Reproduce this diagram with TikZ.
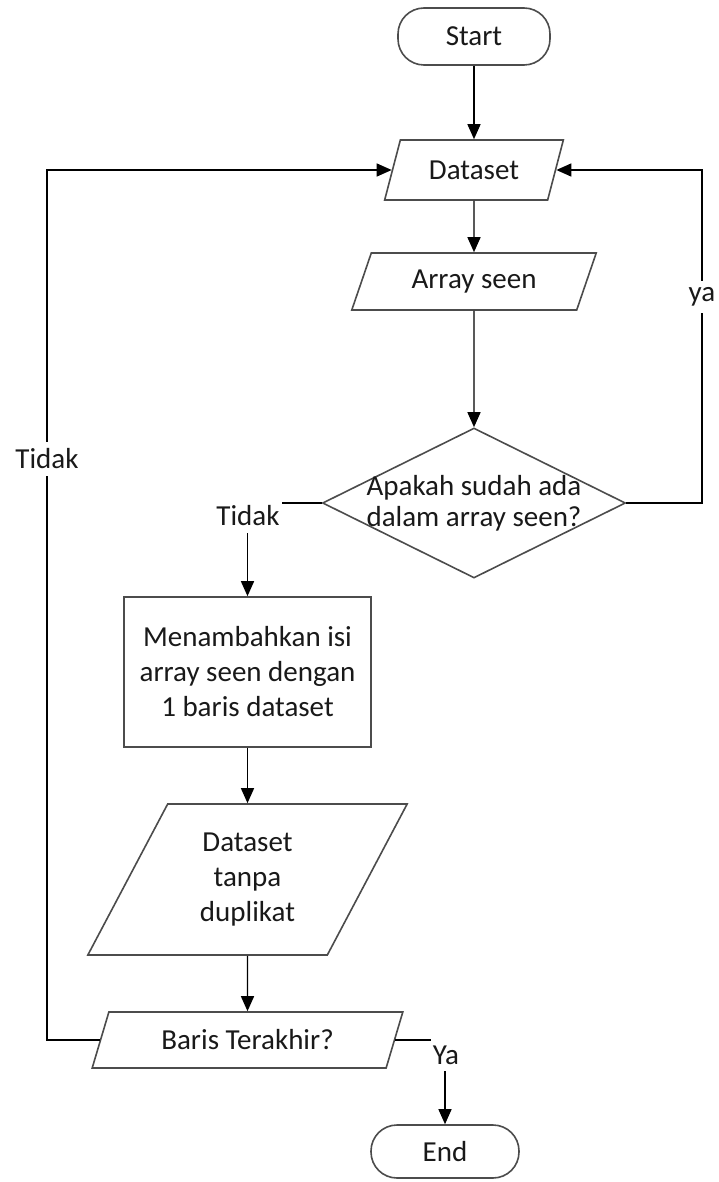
\documentclass[tikz,border=0pt]{standalone}
\usepackage{fontspec}
\setmainfont{Carlito}
\usetikzlibrary{shapes.geometric,arrows.meta}
\begin{document}
\begin{tikzpicture}[x=1pt,y=-1pt,
  every node/.style={font=\fontsize{29}{35}\selectfont, text=black!90},
  shp/.style={draw=black!70, line width=1.6pt, fill=white, inner sep=0pt},
  term/.style={shp, rectangle, rounded corners=26pt},
  io/.style={shp, trapezium, trapezium left angle=63, trapezium right angle=117, trapezium stretches=true},
  dec/.style={shp, diamond},
  proc/.style={shp, rectangle},
  arr/.style={line width=1.4pt, -{Triangle[length=15pt,width=13pt]}},
  lbl/.style={fill=white, inner xsep=2pt, inner ysep=7pt}
]
\useasboundingbox (0,0) rectangle (718,1182);

\node[term, minimum width=152pt, minimum height=57pt] (start) at (474,36.5) {Start};
\node[io, minimum width=179pt, minimum height=60pt] (ds) at (474,170) {Dataset};
\node[io, minimum width=245pt, minimum height=57pt] (arr) at (474,281.5) {Array seen};
\node[dec, minimum width=303pt, minimum height=150pt,
  label={[align=center, font=\fontsize{29}{31}\selectfont]center:Apakah sudah ada\\dalam array seen?}] (dia) at (474,503) {};
\node[proc, minimum width=247pt, minimum height=150pt, align=center] (box) at (247.5,672) {Menambahkan isi\\array seen dengan\\1 baris dataset};
\node[io, minimum width=320pt, minimum height=151pt, align=center] (nd) at (247.5,879.5) {Dataset\\tanpa\\duplikat};
\node[io, minimum width=311pt, minimum height=56pt] (baris) at (247.5,1040) {Baris Terakhir?};
\node[term, minimum width=148pt, minimum height=53pt] (end) at (445,1151.5) {End};

\coordinate (rx) at (702,0);
\coordinate (lx) at (47,0);

\draw[arr] (start) -- (start |- ds.north);
\draw[arr] (ds) -- (ds |- arr.north);
\draw[arr] (arr) -- (dia.north);
\draw[arr] (dia.west) -| (box.north);
\draw[arr] (dia.east) -- (dia.east -| rx) |- (ds.right side);
\draw[arr] (box.south) -- (box.south |- nd.north);
\draw[arr] (nd) -- (nd |- baris.north);
\draw[arr] (baris.left side) -- (baris.left side -| lx) |- (ds.left side);
\draw[arr] (baris.right side) -| (end.north);

\node[lbl] (ya) at (702,297) {ya};
\node[lbl] (t1) at (47,459) {Tidak};
\node[lbl] (t2) at (248,516) {Tidak};
\node[lbl] (ya2) at (446,1055) {Ya};
\end{tikzpicture}
\end{document}
